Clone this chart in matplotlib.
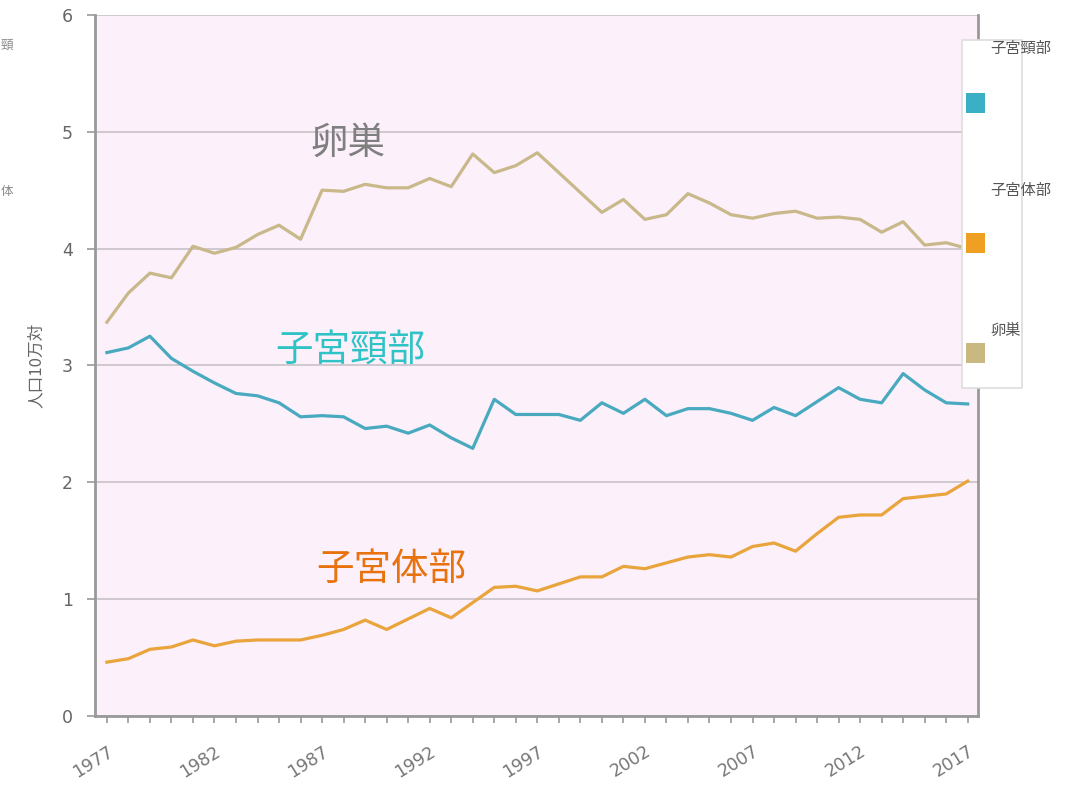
import matplotlib
matplotlib.use("Agg")
import matplotlib.pyplot as plt
from matplotlib.patches import Rectangle
import numpy as np

plt.rcParams['font.family'] = ['Noto Sans CJK JP', 'DejaVu Sans']

years = np.arange(1977, 2018)

# 卵巣
ovary = [3.37, 3.62, 3.79, 3.75, 4.02, 3.96, 4.01, 4.12, 4.20, 4.08,
         4.50, 4.49, 4.55, 4.52, 4.52, 4.60, 4.53, 4.81, 4.65, 4.71,
         4.82, 4.65, 4.48, 4.31, 4.42, 4.25, 4.29, 4.47, 4.39, 4.29,
         4.26, 4.30, 4.32, 4.26, 4.27, 4.25, 4.14, 4.23, 4.03, 4.05,
         4.00]
# 子宮頸部
cervix = [3.11, 3.15, 3.25, 3.06, 2.95, 2.85, 2.76, 2.74, 2.68, 2.56,
          2.57, 2.56, 2.46, 2.48, 2.42, 2.49, 2.38, 2.29, 2.71, 2.58,
          2.58, 2.58, 2.53, 2.68, 2.59, 2.71, 2.57, 2.63, 2.63, 2.59,
          2.53, 2.64, 2.57, 2.69, 2.81, 2.71, 2.68, 2.93, 2.79, 2.68,
          2.67]
# 子宮体部
corpus = [0.46, 0.49, 0.57, 0.59, 0.65, 0.60, 0.64, 0.65, 0.65, 0.65,
          0.69, 0.74, 0.82, 0.74, 0.83, 0.92, 0.84, 0.97, 1.10, 1.11,
          1.07, 1.13, 1.19, 1.19, 1.28, 1.26, 1.31, 1.36, 1.38, 1.36,
          1.45, 1.48, 1.41, 1.56, 1.70, 1.72, 1.72, 1.86, 1.88, 1.90,
          2.01]

tick_years = [1977, 1982, 1987, 1992, 1997, 2002, 2007, 2012, 2017]
legend_names = ['子宮頸部', '子宮体部', '卵巣']
legend_colors = ['#3AAFC6', '#EFA022', '#C9B880']

fig = plt.figure(figsize=(10.8, 7.85), dpi=100)
ax = fig.add_axes([0.088, 0.088, 0.818, 0.893])
ax.set_facecolor('#FCF0FB')

ax.plot(years, ovary, color='#C8B88A', lw=2.3, zorder=3)
ax.plot(years, cervix, color='#48A9BF', lw=2.3, zorder=3)
ax.plot(years, corpus, color='#E9A43C', lw=2.3, zorder=3)

ax.set_xlim(1976.45, 2017.5)
ax.set_ylim(0, 6)
ax.set_yticks(range(0, 7))
ax.grid(axis='y', color='#CFC8CF', lw=1.4, zorder=1)
ax.set_xticks(tick_years)
ax.set_xticklabels([str(y) for y in tick_years], rotation=32, ha='right',
                   rotation_mode='anchor', color='#777777', fontsize=12.5,
                   family='DejaVu Sans')
ax.set_xticks(years, minor=True)
ax.tick_params(axis='x', which='both', length=5, color='#999999', width=1.2,
               pad=14)
ax.tick_params(axis='y', length=6, color='#999999', width=1.2,
               labelcolor='#666666', labelsize=12.5, pad=10)
for lbl in ax.get_yticklabels():
    lbl.set_family('DejaVu Sans')

for side in ['left', 'bottom', 'right']:
    ax.spines[side].set_color('#999999')
    ax.spines[side].set_linewidth(2)
ax.spines['top'].set_visible(False)

ax.set_ylabel('人口10万対', color='#666666', fontsize=12, labelpad=12)

ax.text(1988.2, 4.9, '卵巣', color='#7F7F7F', fontsize=27,
        ha='center', va='center')
ax.text(1988.3, 3.13, '子宮頸部', color='#2FC3C6', fontsize=27,
        ha='center', va='center')
ax.text(1990.2, 1.25, '子宮体部', color='#E8720E', fontsize=27,
        ha='center', va='center')

# legend box on the right
W, H = 1080, 785
fig.patches.append(Rectangle((962 / W, 1 - 388 / H), 60 / W, 348 / H,
                             transform=fig.transFigure, facecolor='white',
                             edgecolor='#DDDDDD', lw=1.2, zorder=5))
sq_y = [103, 243, 353]
txt_y = [48, 190, 330]
for name, col, sy, ty in zip(legend_names, legend_colors, sq_y, txt_y):
    fig.patches.append(Rectangle((966 / W, 1 - (sy + 10) / H), 19 / W, 20 / H,
                                 transform=fig.transFigure, facecolor=col,
                                 edgecolor='none', zorder=6))
    fig.text(990 / W, 1 - ty / H, name, color='#555555', fontsize=11,
             ha='left', va='center', zorder=7)

# small leftover characters at the left edge
fig.text(1 / W, 1 - 45 / H, '頸', color='#888888', fontsize=9,
         ha='left', va='center')
fig.text(1 / W, 1 - 192 / H, '体', color='#888888', fontsize=9,
         ha='left', va='center')

fig.savefig('out.png', dpi=100)
